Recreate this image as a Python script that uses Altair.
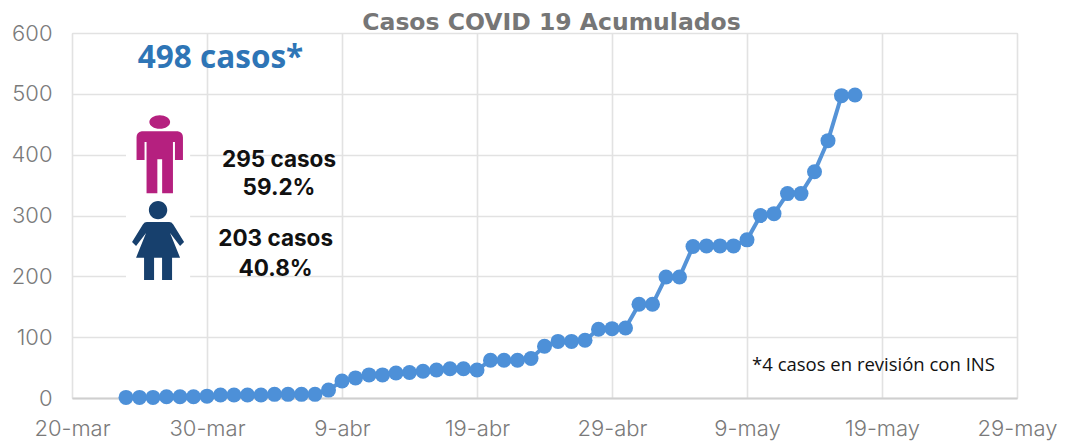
import altair as alt
import pandas as pd

dates = pd.date_range("2020-03-24", "2020-05-17", freq="D").strftime("%Y-%m-%d").tolist()
cases = [1, 1, 1, 2, 2, 2, 3, 5, 5, 5, 5, 6, 6, 6, 6, 13, 28, 33, 38, 38, 41, 42, 44, 46, 48, 48, 46,
         62, 62, 62, 65, 85, 93, 93, 95, 113, 114, 115, 154, 154, 199, 199, 249, 250, 250, 250,
         260, 300, 303, 336, 336, 372, 423, 497, 498]

tick_dates = ["2020-03-20", "2020-03-30", "2020-04-09", "2020-04-19", "2020-04-29", "2020-05-09", "2020-05-19", "2020-05-29"]
y_ticks = [0, 100, 200, 300, 400, 500, 600]

FONT = "Inter"
GREY = "#7a7a7a"

df = pd.DataFrame({"date": dates, "cases": cases})

x_scale = alt.Scale(type="utc", domain=["2020-03-20", "2020-05-29"])
y_scale = alt.Scale(domain=[0, 600])

x = alt.X("date:T", scale=x_scale, title=None,
          axis=alt.Axis(values=tick_dates, grid=True, gridColor="#e2e2e2", gridWidth=1.6,
                        domainColor="#cfcfcf", domainWidth=2, ticks=False, labelPadding=20,
                        labelFont=FONT, labelFontSize=22, labelColor=GREY, labelFontWeight=300,
                        labelOverlap=False, labelFlush=False,
                        labelExpr="utcdate(datum.value)+'-'+(utcmonth(datum.value)==2?'mar':utcmonth(datum.value)==3?'abr':'may')"))
y = alt.Y("cases:Q", scale=y_scale, title=None,
          axis=alt.Axis(values=y_ticks, grid=True, gridColor="#e2e2e2", gridWidth=1.6,
                        domain=False, ticks=False, labelPadding=20,
                        labelFont=FONT, labelFontSize=22, labelColor=GREY, labelFontWeight=300))

# white patch behind the pictograms
patch = alt.Chart(pd.DataFrame({"x1": ["2020-03-24"], "x2": ["2020-03-28T18:00:00Z"], "y1": [185], "y2": [470]})).mark_rect(
    color="white").encode(
    x=alt.X("x1:T", scale=x_scale, title=None), x2="x2:T",
    y=alt.Y("y1:Q", scale=y_scale, title=None), y2="y2:Q")

line = alt.Chart(df).mark_line(color="#5593d7", strokeWidth=4).encode(x=x, y=y)
dots = alt.Chart(df).mark_circle(color="#4d90d8", size=225, opacity=1).encode(x=x, y=y)

MAN = ("M-.26 -.8A.26 .17 0 1 1 .26 -.8A.26 .17 0 1 1 -.26 -.8Z"
       "M-.45 -.57L.45 -.57Q.58 -.55 .58 -.42L.58 .15L.38 .15L.38 -.3L.33 -.3L.33 .98L.06 .98L.06 .13L-.06 .13"
       "L-.06 .98L-.33 .98L-.33 -.3L-.38 -.3L-.38 .15L-.58 .15L-.58 -.42Q-.58 -.55 -.45 -.57Z")
WOMAN = ("M-.23 -.82A.23 .23 0 1 1 .23 -.82A.23 .23 0 1 1 -.23 -.82Z"
         "M-.28 -.52L.28 -.52Q.34 -.52 .38 -.46L.65 -.02L.55 .08L.3 -.25L.55 .37L.35 .37L.35 .93L.1 .93L.1 .37"
         "L-.1 .37L-.1 .93L-.35 .93L-.35 .37L-.55 .37L-.3 -.25L-.55 .08L-.65 -.02L-.38 -.46Q-.34 -.52 -.28 -.52Z")

def icon(when, value, path, colour):
    return alt.Chart(pd.DataFrame({"x": [when], "y": [value]})).mark_point(
        shape=path, size=6400, filled=True, color=colour, opacity=1, strokeWidth=0).encode(
        x=alt.X("x:T", scale=x_scale, title=None), y=alt.Y("y:Q", scale=y_scale, title=None))

man = icon("2020-03-26T12:00:00Z", 401, MAN, "#b5207f")
woman = icon("2020-03-26T09:00:00Z", 255, WOMAN, "#17406d")

def label(when, value, text, size, colour, font, weight, align="center"):
    return alt.Chart(pd.DataFrame({"x": [when], "y": [value], "t": [text]})).mark_text(
        fontSize=size, color=colour, font=font, fontWeight=weight, align=align, baseline="middle").encode(
        x=alt.X("x:T", scale=x_scale, title=None), y=alt.Y("y:Q", scale=y_scale, title=None), text="t:N")

labels = [
    label("2020-03-31T00:00:00Z", 557, "498 casos*", 31.5, "#2e75b6", "Open Sans", "bold"),
    label("2020-04-04T08:00:00Z", 391, "295 casos", 22.5, "#111111", FONT, "bold"),
    label("2020-04-04T08:00:00Z", 345, "59.2%", 22.5, "#111111", FONT, "bold"),
    label("2020-04-04T02:00:00Z", 261, "203 casos", 22.5, "#111111", FONT, "bold"),
    label("2020-04-04T02:00:00Z", 212, "40.8%", 22.5, "#111111", FONT, "bold"),
    label("2020-05-09T09:00:00Z", 54, "*4 casos en revisión con INS", 18.5, "#111111", "Open Sans", "normal", "left"),
]

chart = alt.layer(patch, line, dots, man, woman, *labels).properties(
    width=945, height=365,
    autosize=alt.AutoSizeParams(type="none"),
    padding={"left": 64, "top": 25, "right": 45, "bottom": 44},
    title=alt.TitleParams("Casos COVID 19 Acumulados", font="DejaVu Sans", fontSize=23.5, fontWeight="bold",
                          color="#767676", dx=7, dy=16, offset=4, anchor="middle"),
).configure_view(stroke=None).configure(background="white")

chart.save("out.html", embed_options={"renderer": "svg", "actions": False})
